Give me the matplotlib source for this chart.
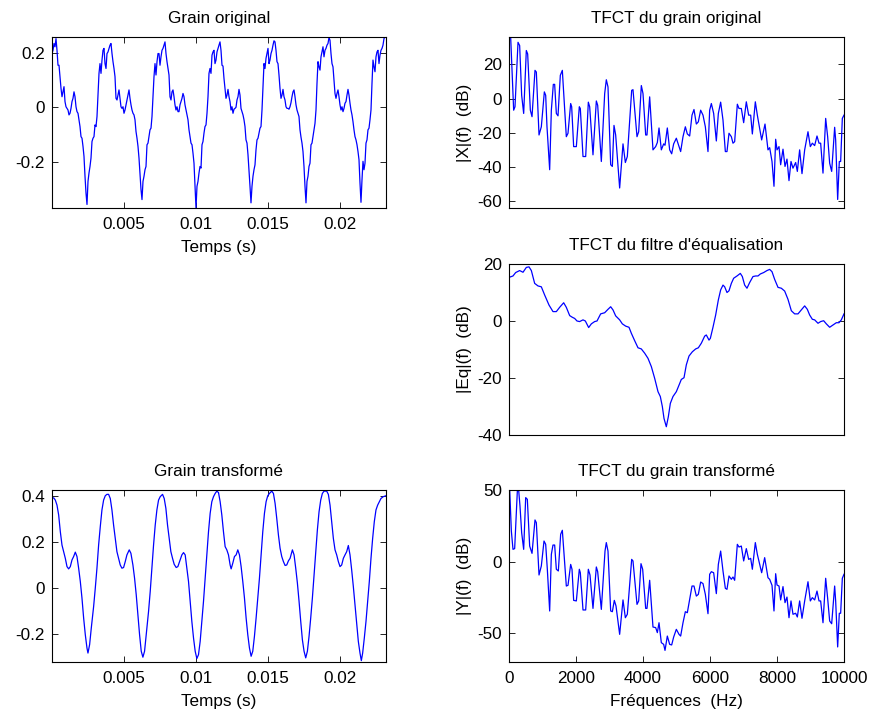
import numpy as np
import matplotlib
matplotlib.use("Agg")
import matplotlib.pyplot as plt

plt.rcParams['font.family'] = ['Liberation Sans', 'DejaVu Sans']
plt.rcParams['axes.unicode_minus'] = False
FS = 12.3
BLUE = '#0000ff'

# ---------------- data ----------------
duration = 0.02322          # s
grain_original = [
    0.198, 0.210, 0.235, 0.223, 0.253, 0.210,
    0.155, 0.155, 0.113, 0.070, 0.039, 0.057, 0.076, 0.021, 0.002, -0.004,
    -0.010, -0.028, -0.022, -0.004, 0.021, 0.033, 0.057, 0.039, 0.002, -0.016,
    -0.022, -0.046, -0.071, -0.108, -0.114, -0.144, -0.181, -0.254, -0.316, -0.358,
    -0.273, -0.242, -0.218, -0.187, -0.126, -0.114, -0.108, -0.065, -0.071, -0.034,
    0.045, 0.125, 0.161, 0.125, 0.174, 0.210, 0.217, 0.161, 0.143, 0.198,
    0.204, 0.217, 0.229, 0.235, 0.198, 0.168, 0.143, 0.113, 0.033, 0.027,
    0.045, 0.064, 0.033, 0.002, -0.004, 0.002, -0.022, -0.010, 0.009, 0.027,
    0.045, 0.064, 0.033, 0.009, -0.010, -0.022, -0.028, -0.046, -0.089, -0.114,
    -0.144, -0.187, -0.242, -0.303, -0.340, -0.273, -0.254, -0.230, -0.218, -0.138,
    -0.132, -0.108, -0.083, -0.077, -0.034, 0.039, 0.113, 0.161, 0.119, 0.168,
    0.198, 0.198, 0.155, 0.186, 0.210, 0.217, 0.229, 0.241, 0.198, 0.168,
    0.143, 0.119, 0.039, 0.027, 0.057, 0.064, 0.039, 0.009, -0.010, 0.002,
    -0.016, -0.016, 0.009, 0.021, 0.033, 0.051, 0.039, 0.009, -0.010, -0.028,
    -0.046, -0.083, -0.108, -0.132, -0.138, -0.169, -0.206, -0.291, -0.371, -0.291,
    -0.273, -0.242, -0.218, -0.224, -0.138, -0.126, -0.095, -0.071, -0.065, -0.022,
    0.039, 0.125, 0.143, 0.125, 0.192, 0.204, 0.210, 0.161, 0.174, 0.204,
    0.217, 0.229, 0.241,
    0.210, 0.155, 0.152, 0.106, 0.070, 0.033, 0.045, 0.066, 0.039, 0.021,
    -0.010, 0.002, -0.022, -0.007, -0.004, 0.000, 0.027, 0.039, 0.066, 0.045,
    -0.004, -0.016, -0.028, -0.046, -0.071, -0.120, -0.132, -0.175, -0.230, -0.291,
    -0.352, -0.291, -0.254, -0.230, -0.212, -0.157, -0.120, -0.114, -0.095, -0.077,
    -0.071, -0.010, 0.076, 0.161, 0.143, 0.180, 0.198, 0.217, 0.161, 0.174,
    0.198, 0.210, 0.229, 0.245, 0.241, 0.210, 0.168, 0.161, 0.119, 0.070,
    0.033, 0.045, 0.066, 0.039, 0.027, 0.002, -0.004, -0.004, -0.007, 0.002,
    0.017, 0.039, 0.057, 0.064, 0.039, 0.009, -0.010, -0.022, -0.034, -0.083,
    -0.110, -0.132, -0.163, -0.218, -0.291, -0.352, -0.273, -0.254, -0.218, -0.206,
    -0.138, -0.132, -0.108, -0.083, -0.059, -0.010, 0.088, 0.168, 0.149, 0.137,
    0.186, 0.204, 0.223, 0.186, 0.210, 0.217, 0.229, 0.235, 0.257, 0.247,
    0.198, 0.161, 0.149, 0.100, 0.051, 0.033, 0.051, 0.064, 0.039, 0.009,
    -0.010, 0.002, -0.016, -0.004, 0.015, 0.021, 0.045, 0.066, 0.045, 0.015,
    -0.010, -0.028, -0.053, -0.083, -0.108, -0.120, -0.138, -0.163, -0.193, -0.279,
    -0.350, -0.267, -0.199, -0.230, -0.206, -0.132, -0.120, -0.083, -0.077, -0.046,
    -0.010, 0.088, 0.174, 0.149, 0.131, 0.186, 0.204, 0.210, 0.161, 0.192,
    0.210, 0.217, 0.229, 0.253, 0.259,
]
grain_original_end = 0.02315   # time of last sample (s)

trans_t_ms = [
    0.000, 0.116, 0.231, 0.347, 0.463, 0.579, 0.694, 0.810, 0.926, 1.042,
    1.157, 1.273, 1.389, 1.505, 1.620, 1.736, 1.852, 1.968, 2.083, 2.199,
    2.315, 2.431, 2.500, 2.616, 2.731, 2.894, 3.009, 3.125, 3.241, 3.356,
    3.472, 3.588, 3.704, 3.819, 3.935, 4.051, 4.167, 4.282, 4.398, 4.514,
    4.630, 4.745, 4.861, 4.977, 5.093, 5.208, 5.370, 5.486, 5.625, 5.741,
    5.856, 5.972, 6.088, 6.204, 6.319, 6.435, 6.551, 6.713, 6.829, 6.944,
    7.060, 7.176, 7.292, 7.407, 7.523, 7.685, 7.801, 7.917, 8.032, 8.148,
    8.264, 8.380, 8.495, 8.634, 8.750, 8.912, 9.028, 9.144, 9.259, 9.375,
    9.491, 9.606, 9.722, 9.838, 9.954, 10.069, 10.185, 10.301, 10.417, 10.532,
    10.648, 10.764, 10.880, 10.995, 11.111, 11.227, 11.343, 11.458, 11.574, 11.690,
    11.806, 11.921, 12.037, 12.153, 12.269, 12.384, 12.454, 12.569, 12.685, 12.801,
    12.917, 13.032, 13.148, 13.264, 13.380, 13.495, 13.611, 13.727, 13.843, 13.958,
    14.074, 14.190, 14.306, 14.421, 14.537, 14.653, 14.769, 14.884, 15.000, 15.116,
    15.278, 15.394, 15.509, 15.625, 15.741, 15.856, 15.972, 16.088, 16.204, 16.319,
    16.435, 16.551, 16.713, 16.829, 16.944, 17.060, 17.176, 17.292, 17.407, 17.523,
    17.639, 17.755, 17.870, 17.986, 18.102, 18.218, 18.333, 18.449, 18.565, 18.681,
    18.796, 18.912, 19.097, 19.213, 19.329, 19.444, 19.560, 19.676, 19.792, 19.907,
    20.023, 20.139, 20.255, 20.370, 20.486, 20.602, 20.718, 20.833, 20.949, 21.065,
    21.181, 21.296, 21.412, 21.505, 21.597, 21.713, 21.829, 21.944, 22.060, 22.176,
    22.292, 22.407, 22.523, 22.639, 22.755, 22.870, 23.032, 23.218,
]
grain_transforme = [
    0.391, 0.394, 0.384, 0.362, 0.319, 0.246, 0.188, 0.159, 0.130, 0.094,
    0.084, 0.094, 0.123, 0.138, 0.157, 0.138, 0.087, 0.029, -0.043, -0.130,
    -0.203, -0.261, -0.283, -0.246, -0.174, -0.080, 0.000, 0.087, 0.188, 0.268,
    0.341, 0.384, 0.403, 0.409, 0.409, 0.391, 0.341, 0.275, 0.217, 0.159,
    0.130, 0.101, 0.087, 0.090, 0.116, 0.145, 0.167, 0.152, 0.101, 0.043,
    -0.029, -0.116, -0.203, -0.275, -0.301, -0.275, -0.203, -0.101, -0.014, 0.087,
    0.188, 0.275, 0.341, 0.384, 0.399, 0.409, 0.391, 0.348, 0.275, 0.217,
    0.159, 0.130, 0.104, 0.090, 0.094, 0.123, 0.145, 0.155, 0.145, 0.087,
    0.029, -0.058, -0.145, -0.217, -0.275, -0.307, -0.290, -0.232, -0.145, -0.058,
    0.043, 0.145, 0.246, 0.326, 0.377, 0.399, 0.413, 0.423, 0.417, 0.377,
    0.319, 0.246, 0.181, 0.167, 0.145, 0.101, 0.084, 0.109, 0.138, 0.145,
    0.167, 0.145, 0.094, 0.029, -0.043, -0.130, -0.203, -0.261, -0.297, -0.275,
    -0.210, -0.130, -0.043, 0.043, 0.145, 0.246, 0.326, 0.377, 0.403, 0.413,
    0.423, 0.413, 0.370, 0.304, 0.232, 0.174, 0.138, 0.116, 0.099, 0.101,
    0.119, 0.130, 0.167, 0.145, 0.087, 0.022, -0.058, -0.145, -0.225, -0.275,
    -0.304, -0.275, -0.210, -0.130, -0.043, 0.058, 0.159, 0.254, 0.333, 0.384,
    0.413, 0.423, 0.423, 0.409, 0.362, 0.290, 0.217, 0.167, 0.145, 0.116,
    0.094, 0.101, 0.130, 0.145, 0.159, 0.186, 0.145, 0.080, 0.007, -0.072,
    -0.152, -0.232, -0.283, -0.316, -0.283, -0.217, -0.145, -0.058, 0.029, 0.130,
    0.217, 0.290, 0.341, 0.362, 0.377, 0.391, 0.399, 0.403,
]

freq_x = [
    0, 50, 139, 179, 269, 318, 378, 438, 517, 557, 637, 687, 776, 816, 896, 965,
    1055, 1095, 1134, 1214, 1264, 1323, 1363, 1413, 1463, 1532, 1592, 1711, 1761,
    1841, 1871, 1930, 2010, 2099, 2129, 2209, 2289, 2368, 2408, 2507, 2607, 2647,
    2756, 2856, 2905, 2955, 3035, 3085, 3134, 3184, 3303, 3403, 3473, 3532, 3662,
    3701, 3821, 3871, 3950, 4000, 4080, 4119, 4199, 4298, 4378, 4428, 4478, 4547,
    4617, 4657, 4726, 4796, 4856, 4915, 4995, 5075, 5124, 5194, 5264, 5323, 5393,
    5463, 5522, 5592, 5652, 5721, 5791, 5861, 5940, 5990, 6040, 6109, 6189, 6249,
    6318, 6388, 6458, 6507, 6567, 6637, 6686, 6736, 6816, 6866, 6935, 7005, 7084,
    7154, 7214, 7264, 7353, 7413, 7482, 7542, 7642, 7731, 7781, 7851, 7910, 7960,
    8000, 8060, 8109, 8179, 8239, 8298, 8358, 8418, 8477, 8557, 8607, 8676, 8746,
    8826, 8925, 8995, 9055, 9124, 9194, 9254, 9303, 9373, 9453, 9512, 9572, 9632,
    9721, 9751, 9811, 9860, 9900, 9950, 10000,
]
spec_x_db = [
    38, 35.8, -6.8, -4.8, 32.9, 31.0, 1.9, -8.7, 28.1, 26.1, -6.8, -10.6, 16.5,
    15.5, -21.3, -16.5, 3.9, 1.9, -16.5, -41.6, -6.8, 8.3, 8.3, -8.7, -10.1, 13.6,
    16.5, -22.3, -20.3, -2.9, -4.8, -28.1, -28.1, -4.8, -5.8, -33.9, -33.9, -2.1,
    -4.8, -32.9, -1.4, -3.9, -36.8, 2.9, 11.0, 6.8, -38.7, -39.7, -15.7, -21.3,
    -52.3, -26.5, -37.4, -33.9, 4.8, 5.2, -22.3, -19.4, 7.6, 2.9, -21.3, -21.3,
    1.0, -30.0, -28.1, -25.7, -17.2, -30.0, -26.5, -27.3, -17.2, -30.0, -32.3,
    -26.5, -23.2, -28.1, -31.0, -22.3, -16.5, -20.7, -21.9, -9.7, -6.4, -14.9,
    -13.6, -6.8, -9.7, -16.5, -31.0, -6.8, -2.9, -8.7, -24.8, -8.7, -2.1, -12.6,
    -31.0, -31.0, -20.3, -22.3, -26.1, -25.2, -3.3, -5.8, -5.8, -14.1, -1.9,
    -9.7, -9.7, -20.7, -1.9, -9.7, -17.4, -24.2, -14.9, -30.0, -28.7, -36.8,
    -51.3, -23.8, -30.0, -28.1, -38.7, -29.6, -39.7, -35.4, -48.0, -36.8, -40.7,
    -37.4, -42.6, -30.0, -43.9, -30.0, -19.4, -28.1, -26.1, -27.5, -21.9, -26.1,
    -26.1, -43.6, -11.6, -22.3, -37.8, -42.6, -16.8, -24.2, -59.0, -36.8, -36.8,
    -11.6, -9.7,
]

eq_freq = [
    0, 119, 199, 318, 418, 517, 597, 667, 766, 866, 965, 1065, 1194, 1313, 1413,
    1512, 1632, 1711, 1811, 1891, 1960, 2030, 2109, 2209, 2279, 2378, 2458, 2557,
    2627, 2736, 2856, 2955, 3035, 3104, 3184, 3303, 3383, 3483, 3582, 3652, 3751,
    3851, 3950, 4050, 4149, 4249, 4348, 4448, 4517, 4577, 4627, 4696, 4756, 4816,
    4895, 4995, 5075, 5144, 5224, 5293, 5373, 5473, 5572, 5652, 5741, 5841, 5890,
    5970, 6010, 6089, 6169, 6249, 6318, 6388, 6438, 6507, 6567, 6637, 6706, 6806,
    6905, 6965, 7035, 7104, 7184, 7283, 7363, 7433, 7502, 7602, 7701, 7781, 7851,
    7930, 8030, 8129, 8229, 8328, 8428, 8527, 8627, 8726, 8826, 8905, 8975, 9055,
    9124, 9224, 9303, 9393, 9472, 9572, 9671, 9771, 9851, 9920, 10000,
]
eq_db = [
    15.3, 15.8, 17.0, 17.7, 17.1, 18.8, 19.0, 17.7, 13.2, 12.3, 12.0, 9.1, 5.6,
    3.3, 3.3, 4.8, 6.4, 4.8, 1.9, 1.3, 0.9, 0.0, -0.2, 0.4, 0.0, -2.3, -1.0, -0.2,
    0.0, 2.5, 2.9, 4.1, 5.0, 3.9, 1.8, 0.4, -1.0, -1.8, -2.2, -4.3, -6.9, -9.4,
    -9.8, -11.3, -13.1, -16.0, -20.1, -24.8, -26.5, -30.0, -34.2, -37.1, -33.6,
    -28.9, -26.5, -24.8, -22.5, -20.5, -19.9, -15.4, -12.3, -10.8, -9.8, -9.4,
    -7.8, -5.3, -4.9, -6.7, -6.1, -2.2, 2.1, 7.4, 10.9, 12.6, 12.0, 10.0, 10.6,
    13.2, 15.0, 15.8, 16.7, 15.6, 12.6, 11.5, 13.5, 15.6, 15.8, 15.8, 16.5, 17.0,
    17.7, 18.1, 17.3, 14.6, 11.8, 11.5, 10.5, 7.6, 3.6, 2.5, 2.5, 3.9, 5.3, 4.1,
    2.1, 0.6, 0.4, -0.8, -0.2, 0.1, -1.0, -2.2, -1.4, -0.6, -0.6, 0.4, 2.5,
]

freq_y = [
    0, 20, 70, 119, 169, 249, 289, 328, 378, 438, 498, 547, 617, 687, 776, 816,
    896, 965, 1045, 1095, 1144, 1214, 1264, 1313, 1363, 1413, 1473, 1542, 1592,
    1711, 1761, 1841, 1881, 1930, 2010, 2099, 2129, 2209, 2289, 2368, 2418, 2507,
    2607, 2647, 2756, 2866, 2905, 2955, 3035, 3085, 3144, 3194, 3303, 3403, 3473,
    3532, 3662, 3701, 3821, 3871, 3940, 3990, 4080, 4119, 4199, 4298, 4378, 4428,
    4478, 4547, 4617, 4657, 4726, 4796, 4856, 4915, 4995, 5075, 5124, 5194, 5264,
    5323, 5393, 5463, 5522, 5592, 5652, 5721, 5791, 5861, 5940, 5990, 6040, 6109,
    6189, 6249, 6318, 6388, 6458, 6507, 6567, 6637, 6686, 6736, 6816, 6866, 6935,
    7005, 7084, 7154, 7214, 7264, 7353, 7413, 7482, 7542, 7632, 7731, 7781, 7851,
    7910, 7960, 8000, 8060, 8109, 8179, 8239, 8298, 8358, 8418, 8477, 8557, 8607,
    8676, 8746, 8826, 8925, 8995, 9055, 9124, 9194, 9254, 9303, 9373, 9453, 9512,
    9572, 9632, 9721, 9751, 9811, 9860, 9900, 9950, 10000,
]
spec_y_db = [
    55, 50.5, 21.4, 8.6, 9.1, 49.3, 49.8, 38.8, 20.2, 8.6, 44.7, 43.5, 10.9, 5.8,
    29.1, 27.2, -9.3, -3.0, 14.4, 12.1, -5.3, -34.4, 5.1, 11.6, 11.6, -5.3, -6.5,
    19.1, 21.9, -17.0, -16.5, -1.9, -5.3, -27.0, -27.4, -5.3, -7.7, -33.7, -33.7,
    -5.3, -9.3, -32.6, -3.7, -7.0, -33.3, 7.4, 13.3, 7.4, -34.4, -34.9, -27.0,
    -30.9, -50.7, -26.7, -39.1, -36.7, 1.6, 0.5, -29.8, -27.4, -1.4, -5.3, -32.6,
    -32.6, -13.0, -45.6, -46.0, -49.5, -42.6, -56.5, -57.7, -61.9, -51.9, -57.7,
    -58.1, -52.6, -47.2, -50.7, -51.9, -42.6, -34.9, -35.6, -26.3, -17.0, -17.0,
    -24.0, -22.8, -14.2, -15.3, -22.8, -36.3, -8.8, -7.0, -7.7, -22.3, -1.9, 7.4,
    -6.5, -18.6, -19.3, -10.0, -12.3, -10.7, -13.0, 12.1, 10.2, 10.9, 0.5, 9.1,
    1.6, 2.3, -5.3, 13.3, 5.1, -1.9, -7.7, 2.8, -11.2, -12.3, -16.5, -34.4, -8.4,
    -16.3, -17.0, -26.7, -17.4, -28.6, -24.7, -39.1, -27.4, -36.7, -36.0, -38.6,
    -27.4, -39.5, -27.4, -14.0, -27.4, -25.1, -26.7, -20.5, -27.4, -27.4, -42.6,
    -11.6, -25.6, -41.4, -43.3, -17.0, -27.4, -59.5, -36.0, -36.0, -11.6, -8.8,
]

time_ticks = [0.005, 0.01, 0.015, 0.02]
time_ticklabels = ['0.005', '0.01', '0.015', '0.02']
freq_ticks = [0, 2000, 4000, 6000, 8000, 10000]

# ---------------- figure ----------------
W, H = 869, 711
fig = plt.figure(figsize=(W / 100, H / 100), dpi=100)


def axes_px(l, t, r, b):
    return fig.add_axes([l / W, 1 - b / H, (r - l) / W, (b - t) / H])


def style(ax):
    for s in ax.spines.values():
        s.set_linewidth(0.8)
        s.set_color('black')
    ax.tick_params(direction='in', top=True, right=True, length=4,
                   width=0.6, labelsize=FS, colors='black')
    ax.tick_params(axis='x', pad=6.5)
    ax.tick_params(axis='y', pad=5)


TPAD = 10
XLPAD = 5.5

# Grain original
ax1 = axes_px(52, 37, 386, 208)
n1 = len(grain_original)
t1 = np.arange(n1) * (grain_original_end / (n1 - 1))
ax1.plot(t1, grain_original, color=BLUE, lw=0.9)
ax1.set_xlim(0, duration)
ax1.set_ylim(-0.371, 0.259)
ax1.set_xticks(time_ticks, time_ticklabels)
ax1.set_yticks([-0.2, 0, 0.2], ['-0.2', '0', '0.2'])
ax1.set_title('Grain original', fontsize=FS, pad=TPAD)
ax1.set_xlabel('Temps (s)', fontsize=FS, labelpad=XLPAD)
style(ax1)

# TFCT du grain original
ax2 = axes_px(509, 37, 844, 208)
ax2.plot(freq_x, spec_x_db, color=BLUE, lw=0.9)
ax2.set_xlim(0, 10000)
ax2.set_ylim(-64, 36)
ax2.set_xticks([])
ax2.set_yticks([-60, -40, -20, 0, 20], ['-60', '-40', '-20', '0', '20'])
ax2.set_title('TFCT du grain original', fontsize=FS, pad=TPAD)
ax2.set_ylabel('|X|(f)  (dB)', fontsize=FS, labelpad=4)
style(ax2)

# TFCT du filtre
ax3 = axes_px(509, 264, 844, 435)
ax3.plot(eq_freq, eq_db, color=BLUE, lw=0.9)
ax3.set_xlim(0, 10000)
ax3.set_ylim(-40, 20)
ax3.set_xticks([])
ax3.set_yticks([-40, -20, 0, 20], ['-40', '-20', '0', '20'])
ax3.set_title("TFCT du filtre d'équalisation", fontsize=FS, pad=TPAD)
ax3.set_ylabel('|Eq|(f)  (dB)', fontsize=FS, labelpad=4)
style(ax3)

# Grain transformé
ax4 = axes_px(52, 490, 386, 662)
ax4.plot(np.array(trans_t_ms) * 1e-3, grain_transforme, color=BLUE, lw=0.9)
ax4.set_xlim(0, duration)
ax4.set_ylim(-0.322, 0.428)
ax4.set_xticks(time_ticks, time_ticklabels)
ax4.set_yticks([-0.2, 0, 0.2, 0.4], ['-0.2', '0', '0.2', '0.4'])
ax4.set_title('Grain transformé', fontsize=FS, pad=TPAD)
ax4.set_xlabel('Temps (s)', fontsize=FS, labelpad=XLPAD)
style(ax4)

# TFCT du grain transformé
ax5 = axes_px(509, 490, 844, 662)
ax5.plot(freq_y, spec_y_db, color=BLUE, lw=0.9)
ax5.set_xlim(0, 10000)
ax5.set_ylim(-70, 50)
ax5.set_xticks(freq_ticks, [str(v) for v in freq_ticks])
ax5.set_yticks([-50, 0, 50], ['-50', '0', '50'])
ax5.set_title('TFCT du grain transformé', fontsize=FS, pad=TPAD)
ax5.set_xlabel('Fréquences  (Hz)', fontsize=FS, labelpad=XLPAD)
ax5.set_ylabel('|Y|(f)  (dB)', fontsize=FS, labelpad=4)
style(ax5)

fig.savefig('out.png', dpi=100)
